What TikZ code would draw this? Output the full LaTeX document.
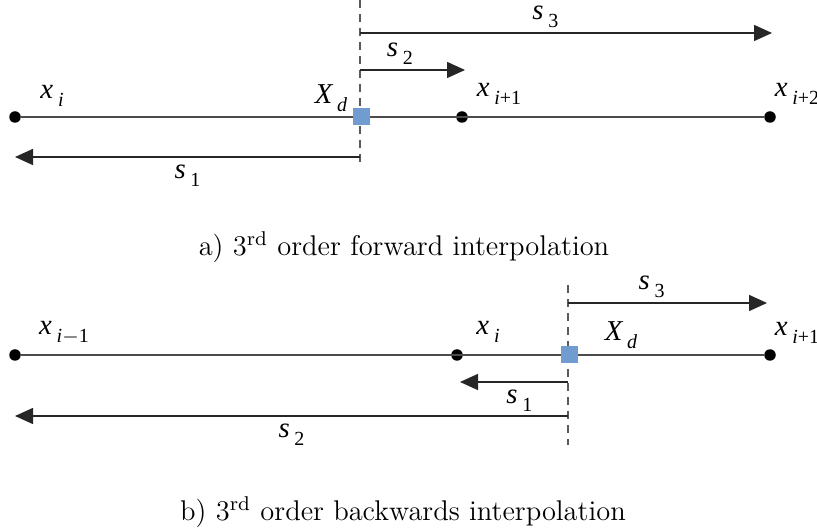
\documentclass[tikz,border=0pt]{standalone}
\usepackage{fontspec}
\newfontfamily\labelfont{Liberation Serif}
\usepackage{tikz}
\usetikzlibrary{positioning,arrows.meta}
\usepackage{xcolor}
\definecolor{xdblue}{RGB}{112,156,208}
\newcommand{\lbl}[2]{{\labelfont\itshape #1}\,\raisebox{-0.6ex}{\labelfont\footnotesize #2}}

\begin{document}
\begin{tikzpicture}[x=0.4pt, y=-0.4pt,
    knot/.style={circle, fill=black, inner sep=0pt, minimum size=4.6pt},
    xdbox/.style={rectangle, fill=xdblue, inner sep=0pt, minimum size=6.8pt},
    axisline/.style={draw=black!70, line width=0.8pt},
    sarrow/.style={draw=black!85, line width=0.6pt, -{Triangle[length=7.2pt, width=6.4pt]}},
    cutline/.style={draw=black!65, line width=0.6pt, dash pattern=on 3.2pt off 2.4pt},
    lab/.style={font=\fontsize{11.5}{13}\selectfont, inner sep=1pt},
    caption/.style={font=\fontsize{11.4}{13}\selectfont}]
    \useasboundingbox (0,0) rectangle (817,530);

    % 1. Forward interpolation
    \begin{scope}
        \draw[cutline] (360,0) -- (360,165);
        \node[knot] (fa) at (15,117) {};
        \node[knot] (fb) at (462,117) {};
        \node[knot] (fc) at (770,117) {};
        \draw[axisline] (fa) -- (fc);
        \node[xdbox] (fd) at (361,117) {};
        \node[lab] at (52,96) {\lbl{x}{\textit{i}}};
        \node[lab] at (331,98) {\lbl{X}{\textit{d}}};
        \node[lab] at (499,94) {\lbl{x}{\textit{i}+1}};
        \node[lab] at (797,94) {\lbl{x}{\textit{i}+2}};
        \coordinate (fs3a) at (360,33);  \coordinate (fs3b) at (772,33);
        \coordinate (fs2a) at (360,70);  \coordinate (fs2b) at (465,70);
        \coordinate (fs1a) at (360,157); \coordinate (fs1b) at (15,157);
        \draw[sarrow] (fs3a) -- (fs3b) node[lab, pos=0.45, above=1pt] {\lbl{s}{3}};
        \draw[sarrow] (fs2a) -- (fs2b) node[lab, pos=0.38, above=1pt] {\lbl{s}{2}};
        \draw[sarrow] (fs1a) -- (fs1b) node[lab, pos=0.5, below=2pt] {\lbl{s}{1}};
        \node[caption] (capa) at (404,247) {a) 3\textsuperscript{rd} order forward interpolation};
    \end{scope}

    % 2. Backwards interpolation
    \begin{scope}
        \draw[cutline] (568,285) -- (568,445);
        \node[knot] (ba) at (15,355) {};
        \node[knot] (bb) at (457,355) {};
        \node[knot] (bc) at (770,355) {};
        \draw[axisline] (ba) -- (bc);
        \node[xdbox] (bd) at (569,355) {};
        \node[lab] at (64,333) {\lbl{x}{\textit{i}$-$1}};
        \node[lab] at (488,332) {\lbl{x}{\textit{i}}};
        \node[lab] at (621,335) {\lbl{X}{\textit{d}}};
        \node[lab] at (797,333) {\lbl{x}{\textit{i}+1}};
        \coordinate (bs3a) at (568,303); \coordinate (bs3b) at (767,303);
        \coordinate (bs1a) at (568,382); \coordinate (bs1b) at (460,382);
        \coordinate (bs2a) at (568,416); \coordinate (bs2b) at (15,416);
        \draw[sarrow] (bs3a) -- (bs3b) node[lab, pos=0.42, above=1pt] {\lbl{s}{3}};
        \draw[sarrow] (bs1a) -- (bs1b) node[lab, pos=0.45, below=2pt] {\lbl{s}{1}};
        \draw[sarrow] (bs2a) -- (bs2b) node[lab, pos=0.5, below=2pt] {\lbl{s}{2}};
        \node[caption] (capb) at (403,512) {b) 3\textsuperscript{rd} order backwards interpolation};
    \end{scope}
\end{tikzpicture}
\end{document}
